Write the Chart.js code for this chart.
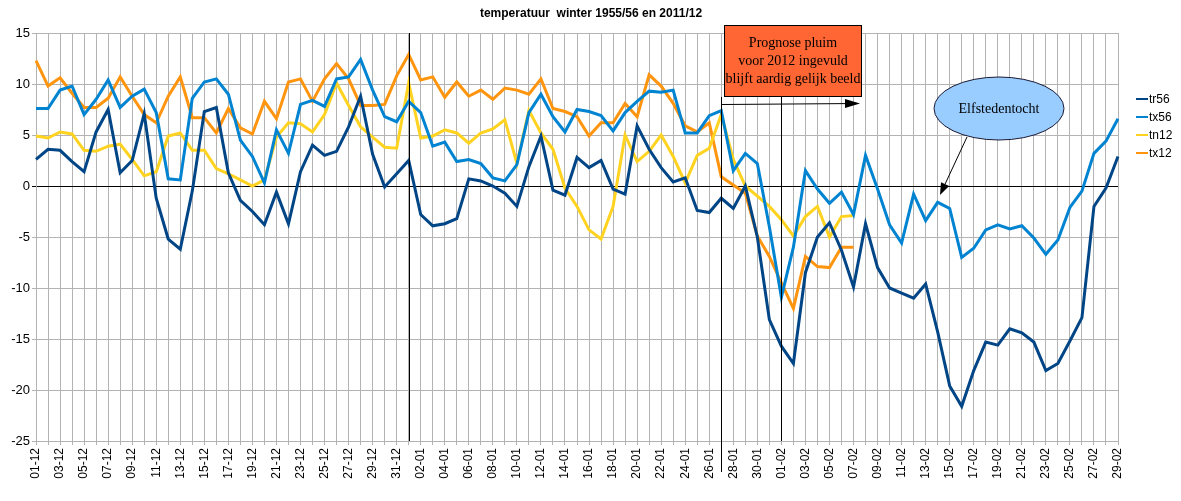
<!DOCTYPE html>
<html>
<head>
<meta charset="utf-8">
<script src="https://cdn.jsdelivr.net/npm/chart.js@4"></script>
<style>
  html, body { margin: 0; padding: 0; background: #fff; }
  #wrap { width: 1181px; height: 501px; }
</style>
</head>
<body>
<div id="wrap"><canvas id="chart-line"></canvas></div>
<script>
var labels = [
    '01-12','02-12','03-12','04-12','05-12','06-12','07-12','08-12','09-12','10-12',
    '11-12','12-12','13-12','14-12','15-12','16-12','17-12','18-12','19-12','20-12',
    '21-12','22-12','23-12','24-12','25-12','26-12','27-12','28-12','29-12','30-12','31-12',
    '01-01','02-01','03-01','04-01','05-01','06-01','07-01','08-01','09-01','10-01',
    '11-01','12-01','13-01','14-01','15-01','16-01','17-01','18-01','19-01','20-01',
    '21-01','22-01','23-01','24-01','25-01','26-01','27-01','28-01','29-01','30-01','31-01',
    '01-02','02-02','03-02','04-02','05-02','06-02','07-02','08-02','09-02','10-02',
    '11-02','12-02','13-02','14-02','15-02','16-02','17-02','18-02','19-02','20-02',
    '21-02','22-02','23-02','24-02','25-02','26-02','27-02','28-02','29-02'
];

var tr56 = [2.6, 3.6, 3.5, 2.4, 1.4, 5.3, 7.5, 1.3, 2.5, 7.1,
    -1.2, -5.2, -6.2, -0.5, 7.3, 7.7, 1.3, -1.4, -2.5, -3.8,
    -0.6, -3.7, 1.4, 4.0, 3.0, 3.4, 5.8, 8.8, 3.1, -0.1, 1.2,
    2.5, -2.8, -3.9, -3.7, -3.2, 0.7, 0.5, 0.0, -0.7, -2.0,
    1.9, 4.9, -0.4, -0.9, 2.8, 1.8, 2.5, -0.3, -0.8, 5.9,
    3.6, 1.8, 0.4, 0.8, -2.4, -2.6, -1.2, -2.2, 0.0, -5.0, -13.1,
    -15.7, -17.4, -8.5, -5.0, -3.6, -6.3, -9.9, -3.7, -8.0, -10.0,
    -10.5, -11.0, -9.6, -14.3, -19.6, -21.6, -18.1, -15.3, -15.6, -14.0,
    -14.4, -15.3, -18.1, -17.4, -15.2, -12.9, -2.0, -0.2, 2.9];

var tx56 = [7.6, 7.6, 9.4, 9.8, 7.0, 8.5, 10.4, 7.7, 8.8, 9.5,
    7.2, 0.7, 0.6, 8.6, 10.2, 10.5, 9.0, 4.5, 2.9, 0.3,
    5.5, 3.2, 8.0, 8.4, 7.8, 10.5, 10.7, 12.4, 9.4, 6.8, 6.3,
    8.3, 7.2, 3.9, 4.3, 2.4, 2.6, 2.2, 0.8, 0.5, 2.1,
    7.2, 9.0, 6.8, 5.3, 7.5, 7.3, 6.9, 5.4, 7.2, 8.3,
    9.3, 9.2, 9.4, 5.2, 5.2, 6.9, 7.4, 1.5, 3.2, 2.2, -4.0,
    -10.9, -6.0, 1.5, -0.3, -1.7, -0.6, -2.8, 3.0, -0.3, -3.8,
    -5.6, -0.8, -3.4, -1.6, -2.2, -7.0, -6.1, -4.3, -3.8, -4.2,
    -3.9, -5.1, -6.7, -5.3, -2.1, -0.5, 3.2, 4.4, 6.6];

var tn12 = [4.9, 4.7, 5.3, 5.1, 3.5, 3.4, 3.9, 4.1, 2.6, 1.0,
    1.4, 4.9, 5.2, 3.5, 3.5, 1.7, 1.2, 0.6, 0.0, 0.6,
    4.8, 6.2, 6.1, 5.3, 7.0, 10.1, 7.9, 5.8, 4.8, 3.8, 3.7,
    10.1, 4.7, 4.9, 5.5, 5.2, 4.2, 5.2, 5.6, 6.5, 2.2,
    7.4, 5.2, 3.6, -0.2, -2.0, -4.3, -5.2, -2.0, 5.0, 2.4,
    3.4, 5.0, 2.9, 0.3, 3.0, 3.7, 7.0, 2.6, 0.0, -1.0, -2.0,
    -3.3, -4.9, -3.0, -2.0, -5.0, -3.0, -2.9];

var tx12 = [12.3, 9.8, 10.6, 9.1, 7.7, 7.7, 8.6, 10.7, 8.8, 7.0,
    6.2, 8.8, 10.7, 6.7, 6.7, 5.2, 7.6, 5.7, 5.1, 8.3,
    6.6, 10.2, 10.5, 8.3, 10.5, 12.0, 10.5, 7.9, 7.9, 8.0, 10.8,
    12.9, 10.4, 10.7, 8.7, 10.2, 8.8, 9.4, 8.5, 9.6, 9.4,
    9.0, 10.5, 7.6, 7.3, 6.8, 4.9, 6.2, 6.2, 8.1, 6.8,
    10.9, 9.8, 8.1, 5.9, 5.3, 6.2, 0.9, 0.1, -0.7, -4.9, -6.9,
    -9.5, -12.0, -6.9, -7.9, -8.0, -6.0, -6.0];

var yTicks = [15, 10, 5, 0, -5, -10, -15, -20, -25];

var colors = ['#004586', '#0084d1', '#ffd320', '#ff950e'];
var names = ['tr56', 'tx56', 'tn12', 'tx12'];

function arrow(ctx, x1, y1, x2, y2, len, half) {
    var a = Math.atan2(y2 - y1, x2 - x1);
    ctx.beginPath();
    ctx.moveTo(x1, y1);
    ctx.lineTo(x2 - Math.cos(a) * len, y2 - Math.sin(a) * len);
    ctx.stroke();
    ctx.beginPath();
    ctx.moveTo(x2, y2);
    ctx.lineTo(x2 - Math.cos(a) * len - Math.sin(a) * half, y2 - Math.sin(a) * len + Math.cos(a) * half);
    ctx.lineTo(x2 - Math.cos(a) * len + Math.sin(a) * half, y2 - Math.sin(a) * len - Math.cos(a) * half);
    ctx.closePath();
    ctx.fill();
}

// title, legend and the drawn notes on top of the chart
var extras = {
    id: 'extras',
    afterDraw: function (chart) {
        var ctx = chart.ctx;
        var x = chart.scales.x;
        var area = chart.chartArea;
        ctx.save();

        ctx.fillStyle = '#000';
        ctx.font = 'bold 12px "Liberation Sans", Arial, sans-serif';
        ctx.textAlign = 'center';
        ctx.textBaseline = 'middle';
        ctx.fillText('temperatuur  winter 1955/56 en 2011/12', 591, 14);

        // marker lines 01-01, 27-01, 01-02
        ctx.strokeStyle = '#000';
        ctx.lineWidth = 1;
        var x1 = Math.round(x.getPixelForValue(31)) + 0.5;
        var x2 = Math.round(x.getPixelForValue(57)) + 0.5;
        var x3 = Math.round(x.getPixelForValue(62)) + 0.5;
        ctx.beginPath();
        ctx.moveTo(x1, area.top); ctx.lineTo(x1, area.bottom);
        ctx.moveTo(x2, 97); ctx.lineTo(x2, 472);
        ctx.moveTo(x3, 97); ctx.lineTo(x3, area.bottom);
        ctx.stroke();

        // prognose box
        ctx.fillStyle = '#ff6633';
        ctx.fillRect(724, 25, 138, 72);
        ctx.strokeRect(724.5, 25.5, 137, 71);
        ctx.fillStyle = '#000';
        ctx.font = '14px "Liberation Serif", "Times New Roman", serif';
        ctx.fillText('Prognose pluim', 793, 43);
        ctx.fillText('voor 2012 ingevuld', 793, 61);
        ctx.fillText('blijft aardig gelijk beeld', 793, 79);
        arrow(ctx, x2, 104.5, 860, 103.5, 15, 4.5);

        // Elfstedentocht bubble
        ctx.beginPath();
        ctx.ellipse(999, 108.5, 65, 31.5, 0, 0, Math.PI * 2);
        ctx.fillStyle = '#99ccff';
        ctx.fill();
        ctx.strokeStyle = '#1a1a33';
        ctx.stroke();
        ctx.fillStyle = '#000';
        ctx.fillText('Elfstedentocht', 999, 109);
        ctx.strokeStyle = '#000';
        arrow(ctx, 967, 137, 940, 195, 12, 4.5);

        // legend
        ctx.font = '12px "Liberation Sans", Arial, sans-serif';
        ctx.textAlign = 'left';
        ctx.lineWidth = 2;
        for (var i = 0; i < names.length; i++) {
            var ly = 99 + i * 18;
            ctx.strokeStyle = colors[i];
            ctx.beginPath();
            ctx.moveTo(1136, ly); ctx.lineTo(1148, ly);
            ctx.stroke();
            ctx.fillStyle = '#000';
            ctx.fillText(names[i], 1149, ly + 1);
        }
        ctx.restore();
    }
};

function series(label, data, color) {
    return {
        label: label,
        data: data,
        borderColor: color,
        backgroundColor: color,
        borderWidth: 3,
        pointRadius: 0,
        tension: 0,
        fill: false
    };
}

var ctxLine = document.getElementById('chart-line');
var chartLine = new Chart(ctxLine, {
    type: 'line',
    data: {
        labels: labels,
        datasets: [
            series('tr56', tr56, colors[0]),
            series('tx56', tx56, colors[1]),
            series('tn12', tn12, colors[2]),
            series('tx12', tx12, colors[3])
        ]
    },
    options: {
        responsive: true,
        maintainAspectRatio: false,
        animation: false,
        events: [],
        layout: { padding: { top: 33, right: 63, left: 0, bottom: 0 } },
        plugins: {
            legend: { display: false },
            title: { display: false },
            tooltip: { enabled: false }
        },
        scales: {
            x: {
                offset: false,
                grid: { color: '#b3b3b3', lineWidth: 1, tickLength: 4 },
                border: { color: '#b3b3b3' },
                ticks: {
                    autoSkip: false,
                    maxRotation: 90,
                    minRotation: 90,
                    padding: 3,
                    color: '#000',
                    font: { family: '"Liberation Sans", Arial, sans-serif', size: 12 },
                    callback: function (v, i) { return i % 2 === 0 ? labels[i] : ''; }
                },
                afterFit: function (s) { s.height = 60; }
            },
            y: {
                min: -25,
                max: 15,
                afterBuildTicks: function (s) {
                    s.ticks = yTicks.map(function (v) { return { value: v }; });
                },
                grid: {
                    tickLength: 4,
                    color: function (c) { return c.tick && c.tick.value === 0 ? '#000' : '#b3b3b3'; }
                },
                border: { color: '#b3b3b3' },
                ticks: {
                    padding: 2,
                    color: '#000',
                    font: { family: '"Liberation Sans", Arial, sans-serif', size: 13 }
                },
                afterFit: function (s) { s.width = 36; }
            }
        }
    },
    plugins: [extras]
});
</script>
</body>
</html>
